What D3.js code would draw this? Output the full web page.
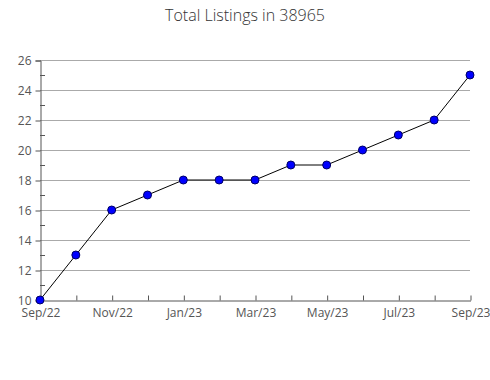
<!DOCTYPE html>
<html>
<head>
<meta charset="utf-8">
<script src="https://cdnjs.cloudflare.com/ajax/libs/d3/7.8.5/d3.min.js"></script>
<style>
  body { margin: 0; background: #fff; }
  text { font-family: "Open Sans", sans-serif; }
</style>
</head>
<body>
<svg id="chart" width="490" height="380"></svg>
<script>
    var months = ["Sep/22", "Oct/22", "Nov/22", "Dec/22", "Jan/23", "Feb/23", "Mar/23",
                  "Apr/23", "May/23", "Jun/23", "Jul/23", "Aug/23", "Sep/23"];
    var listings = [10, 13, 16, 17, 18, 18, 18, 19, 19, 20, 21, 22, 25];
    var yTicks = [10, 12, 14, 16, 18, 20, 22, 24, 26];
    var yMinor = [11, 13, 15, 17, 19, 21, 23, 25];

    var svg = d3.select("#chart");
    var plotL = 40, plotR = 470, plotT = 60, plotB = 300;

    var x = d3.scalePoint().domain(months).range([plotL, plotR]);
    var y = d3.scaleLinear().domain([10, 26]).range([plotB, plotT]);

    svg.append("text")
        .attr("x", 245).attr("y", 21)
        .attr("text-anchor", "middle")
        .style("font-size", "16px")
        .style("font-weight", 300)
        .style("fill", "#333")
        .text("Total Listings in 38965");

    // grid
    svg.append("g")
        .selectAll("line")
        .data(yTicks.slice(1))
        .enter().append("line")
        .attr("x1", plotL).attr("x2", plotR)
        .attr("y1", d => y(d) + 0.5).attr("y2", d => y(d) + 0.5)
        .style("stroke", "#aaa");

    // y axis
    var yAxis = svg.append("g")
        .attr("transform", "translate(" + (plotL + 0.5) + ",0.5)")
        .call(d3.axisLeft(y).tickValues(yTicks).tickSize(5).tickPadding(4));
    yAxis.select(".domain").style("stroke", "#555");
    yAxis.selectAll(".tick line").style("stroke", "#555");
    yAxis.selectAll("text").style("font-size", "12px").style("fill", "#555");

    svg.append("g")
        .selectAll("line")
        .data(yMinor)
        .enter().append("line")
        .attr("x1", plotL).attr("x2", plotL + 5)
        .attr("y1", d => y(d) + 0.5).attr("y2", d => y(d) + 0.5)
        .style("stroke", "#555");

    // x axis
    var xAxis = svg.append("g")
        .attr("transform", "translate(0.5," + (plotB + 0.5) + ")")
        .call(d3.axisBottom(x).tickSizeInner(-5).tickSizeOuter(0).tickPadding(8)
            .tickFormat((d, i) => i % 2 === 0 ? d : ""));
    xAxis.select(".domain").style("stroke", "#555");
    xAxis.selectAll(".tick line").style("stroke", "#555");
    xAxis.selectAll("text").style("font-size", "12px").style("fill", "#555");

    var pts = months.map((m, i) => [x(m), y(listings[i])]);

    svg.append("path")
        .datum(pts)
        .attr("d", d3.line())
        .style("fill", "none")
        .style("stroke", "#000")
        .style("stroke-width", 1);

    svg.append("g")
        .selectAll("circle")
        .data(pts)
        .enter().append("circle")
        .attr("cx", d => d[0]).attr("cy", d => d[1])
        .attr("r", 4)
        .style("fill", "#0000ff")
        .style("stroke", "#000066")
        .style("stroke-width", 1);
</script>
</body>
</html>
